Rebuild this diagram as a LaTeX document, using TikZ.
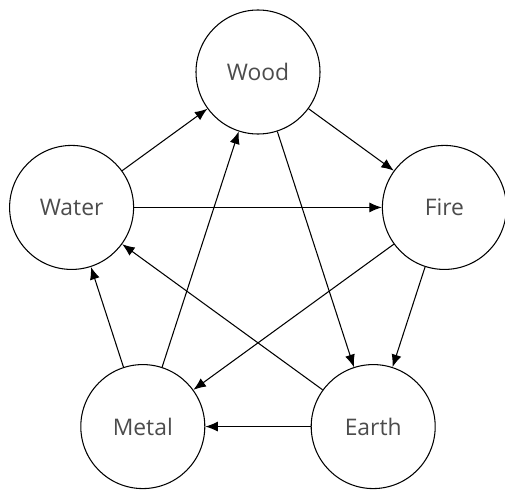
\documentclass[tikz,border=0pt]{standalone}
\usepackage{fontspec}
\setmainfont{Open Sans}
\usepackage{tikz}
\usetikzlibrary{arrows.meta}

\tikzset{
  phase/.style={circle,draw,line width=0.6pt,minimum size=2.48cm,inner sep=0pt,
    font=\fontsize{13}{15}\selectfont,text=black!70},
  flow/.style={line width=0.6pt,-{Latex[length=2.5mm,width=2mm]}}
}

\begin{document}
\begin{tikzpicture}
    \useasboundingbox (0,0) rectangle (10.1,-9.9);
    % the five phases on a pentagon
    \begin{scope}[shift={(5.16,-5.36)}]
      \node (wood)  at (90:3.92)  [phase]{Wood};
      \node (fire)  at (18:3.92)  [phase]{Fire};
      \node (earth) at (-54:3.92) [phase]{Earth};
      \node (metal) at (234:3.92) [phase]{Metal};
      \node (water) at (162:3.92) [phase]{Water};
    \end{scope}
    % generating cycle
    \draw[flow] (wood) -- (fire);
    \draw[flow] (fire) -- (earth);
    \draw[flow] (earth) -- (metal);
    \draw[flow] (metal) -- (water);
    \draw[flow] (water) -- (wood);
    % controlling cycle
    \draw[flow] (water) -- (fire);
    \draw[flow] (fire) -- (metal);
    \draw[flow] (metal) -- (wood);
    \draw[flow] (wood) -- (earth);
    \draw[flow] (earth) -- (water);
  \end{tikzpicture}
\end{document}
